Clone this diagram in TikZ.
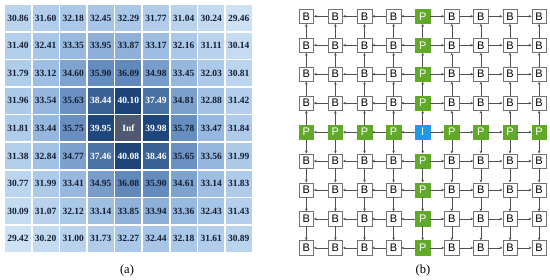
\documentclass[tikz,border=0pt]{standalone}
\usepackage{fontspec}
\setmainfont{Liberation Serif}
\setsansfont{Liberation Sans}
\usetikzlibrary{positioning,arrows.meta,calc}
\definecolor{heatlow}{RGB}{205,226,245}
\definecolor{heatmid}{RGB}{160,192,228}
\definecolor{heatdeep}{RGB}{98,138,188}
\definecolor{heathigh}{RGB}{28,68,120}
\definecolor{heatinf}{RGB}{78,88,112}
\definecolor{heattext}{RGB}{20,30,50}
\definecolor{predgreen}{RGB}{96,170,40}
\definecolor{intrablue}{RGB}{30,155,225}
\definecolor{edgegray}{RGB}{80,80,80}
\tikzset{
  cell/.style={minimum width=26pt, minimum height=26pt, inner sep=0pt,
               font=\fontsize{9.5}{11}\selectfont\bfseries},
  blk/.style={draw=black!55, fill=white, minimum size=14.5pt, inner sep=0pt,
              font=\sffamily\fontsize{11}{12}\selectfont},
  pblk/.style={blk, draw=predgreen, fill=predgreen, text=white},
  iblk/.style={blk, draw=intrablue, fill=intrablue, text=white},
  link/.style={-{Stealth[length=3pt,width=2.6pt]}, draw=edgegray, line width=0.5pt},
  sublbl/.style={font=\fontsize{12.5}{14}\selectfont}
}

\begin{document}
\begin{tikzpicture}[x=1pt,y=-1pt]
\useasboundingbox (0,0) rectangle (550,280);
\foreach \row [count=\r] in {
  {30.86,31.60,32.18,32.45,32.29,31.77,31.04,30.24,29.46},
  {31.40,32.41,33.35,33.95,33.87,33.17,32.16,31.11,30.14},
  {31.79,33.12,34.60,35.90,36.09,34.98,33.45,32.03,30.81},
  {31.96,33.54,35.63,38.44,40.10,37.49,34.81,32.88,31.42},
  {31.81,33.44,35.75,39.95,Inf,39.98,35.78,33.47,31.84},
  {31.38,32.84,34.77,37.46,40.08,38.46,35.65,33.56,31.99},
  {30.77,31.99,33.41,34.95,36.08,35.90,34.61,33.14,31.83},
  {30.09,31.07,32.12,33.14,33.85,33.94,33.36,32.43,31.43},
  {29.42,30.20,31.00,31.73,32.27,32.44,32.18,31.61,30.89}}{
  \foreach \v [count=\c] in \row {
    \ifnum\numexpr10*\r+\c\relax=55
      \node[cell, fill=heatinf, text=white] (h-\r-\c) at ({18+27.6*(\c-1)},{18+27.6*(\r-1)}) {\v};
    \else
      \pgfmathtruncatemacro\seg{(\v>=33)+(\v>=36)}
      \pgfmathtruncatemacro\dark{\v>37}
      \ifcase\seg
        \pgfmathtruncatemacro\pct{(\v-29.4)/3.6*100}
        \colorlet{cellc}{heatmid!\pct!heatlow}
      \or
        \pgfmathtruncatemacro\pct{(\v-33)/3*100}
        \colorlet{cellc}{heatdeep!\pct!heatmid}
      \or
        \pgfmathtruncatemacro\pct{min(100,(\v-36)/4.1*100)}
        \colorlet{cellc}{heathigh!\pct!heatdeep}
      \fi
      \ifnum\dark=1 \colorlet{numc}{white}\else \colorlet{numc}{heattext}\fi
      \node[cell, fill=cellc, text=numc] (h-\r-\c) at ({18+27.6*(\c-1)},{18+27.6*(\r-1)}) {\v};
    \fi
  }
}
\foreach \r in {1,...,9}
  \foreach \c in {1,...,9} {
    \pgfmathtruncatemacro\kind{(\r==5)+(\c==5)}
    \ifcase\kind
      \node[blk] (n-\r-\c) at ({306.3+29.1*(\c-1)},{16.3+28.95*(\r-1)}) {B};
    \or
      \node[pblk] (n-\r-\c) at ({306.3+29.1*(\c-1)},{16.3+28.95*(\r-1)}) {P};
    \or
      \node[iblk] (n-\r-\c) at ({306.3+29.1*(\c-1)},{16.3+28.95*(\r-1)}) {I};
    \fi
  }
\foreach \r in {1,...,9}
  \foreach \c in {1,...,8} {
    \pgfmathtruncatemacro\nxt{\c+1}
    \ifnum\c<5
      \draw[link] (n-\r-\nxt) -- (n-\r-\c);
      \draw[link] (n-\nxt-\r) -- (n-\c-\r);
    \else
      \draw[link] (n-\r-\c) -- (n-\r-\nxt);
      \draw[link] (n-\c-\r) -- (n-\nxt-\r);
    \fi
  }
\node[sublbl] (lbl-a) at (127,270) {(a)};
\node[sublbl] (lbl-b) at (423,270) {(b)};
\end{tikzpicture}
\end{document}
